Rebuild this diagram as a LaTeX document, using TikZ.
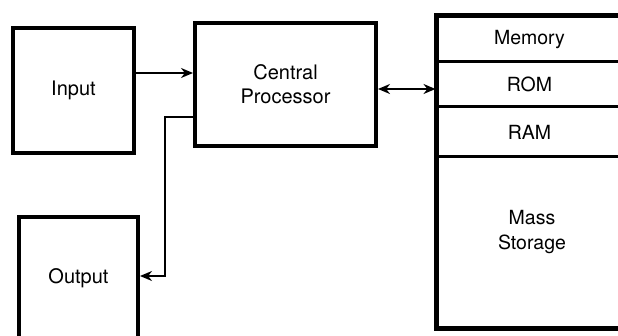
\documentclass[tikz,border=0pt]{standalone}
\usepackage{fontspec}
\setmainfont{TeX Gyre Heros}
\usetikzlibrary{arrows.meta,positioning}

\begin{document}
\begin{tikzpicture}[x=1pt,y=-1pt,
  box/.style={draw,line width=4pt,inner sep=0pt,align=center,font=\fontsize{20}{24}\selectfont},
  part/.style={draw,line width=3pt,inner sep=0pt,minimum width=185pt,align=center,font=\fontsize{19.5}{24}\selectfont},
  conn/.style={line width=2.6pt,-{Stealth[length=12pt,width=10pt]}},
  bus/.style={line width=2.6pt,{Stealth[length=12pt,width=10pt]}-{Stealth[length=12pt,width=10pt]}}]
\useasboundingbox (0,0) rectangle (618,336);
\clip (0,0) rectangle (618,336);

% the three units on the left
\node[box,minimum width=121pt,minimum height=125pt] (input) at (73.5,90.5) {Input};
\node[box,minimum width=181pt,minimum height=123pt] (cpu) at (285.5,84.5) {Central\\Processor};
\node[box,minimum width=119pt,minimum height=123pt] (output) at (78.5,278.5) {Output};

% memory column
\node[part,minimum height=45pt] (mem) at (529.5,39.5) {Memory};
\node[part,minimum height=45pt] (rom) at (529.5,84.5) {ROM};
\node[part,minimum height=50pt] (ram) at (529.5,132) {RAM};
\node[part,minimum height=171pt] (mass) at (529.5,242.5) {};
\node[align=center,font=\fontsize{19.5}{25}\selectfont] (masstext) at (532,232) {Mass\\Storage};
\draw[line width=4pt] (mem.north west) rectangle (mass.south east);

% connectors
\coordinate (inlvl) at (0,73);
\coordinate (buslvl) at (0,89);
\coordinate (wtop) at (165,117);
\coordinate (wlow) at (165,276);
\draw[conn] (input.east |- inlvl) -- (cpu.west |- inlvl);
\draw[bus] (cpu.east |- buslvl) -- (rom.west |- buslvl);
\draw[conn] (cpu.west |- wtop) -- (wtop) -- (wlow) -- (output.east |- wlow);
\end{tikzpicture}
\end{document}
